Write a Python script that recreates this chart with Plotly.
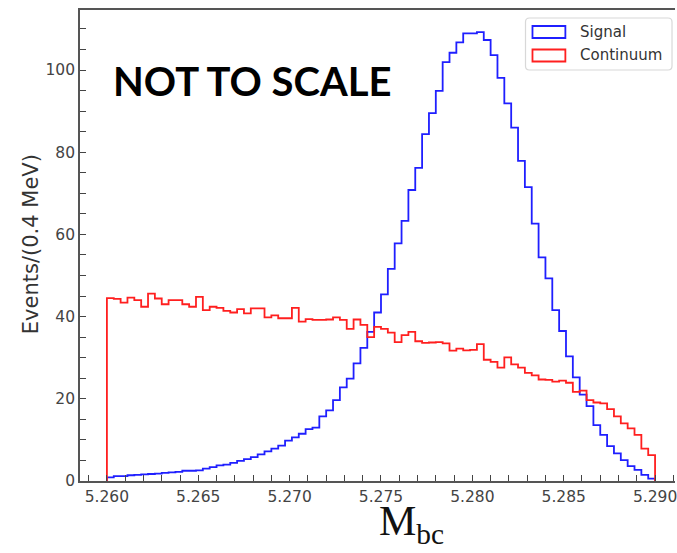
import numpy as np
import plotly.graph_objects as go

# ---- binned M_bc distributions -------------------------------------------
bin_lo, bin_hi, n_bins = 5.260, 5.290, 80

signal_counts = [
    0.9, 1.2, 1.2, 1.4, 1.5, 1.6, 1.7, 1.8, 2.0, 2.1,
    2.2, 2.5, 2.5, 2.6, 3.0, 3.4, 3.8, 4.0, 4.4, 4.9,
    5.3, 5.8, 6.5, 7.2, 7.9, 8.6, 9.8, 10.6, 11.5, 12.6,
    13.0, 15.7, 17.2, 19.7, 22.8, 24.9, 28.6, 32.4, 36.3, 41.0,
    45.4, 51.6, 57.8, 63.3, 70.8, 76.2, 84.4, 89.5, 94.9, 101.9,
    104.2, 106.7, 108.9, 108.9, 109.2, 107.3, 103.6, 98.1, 91.9, 86.0,
    77.9, 71.5, 62.6, 54.4, 49.3, 41.6, 36.5, 30.3, 25.2, 21.0,
    18.2, 13.6, 11.2, 8.5, 6.7, 5.1, 3.6, 2.7, 1.5, 0.6,
]

continuum_counts = [
    44.5, 44.3, 43.4, 44.6, 44.0, 42.4, 45.6, 44.4, 43.0, 44.0,
    44.0, 43.0, 42.4, 44.8, 41.6, 42.4, 42.1, 41.4, 41.0, 41.8,
    40.8, 42.0, 42.0, 39.8, 40.3, 39.6, 39.6, 42.1, 38.8, 39.4,
    39.2, 39.2, 39.3, 39.8, 39.2, 37.0, 39.3, 38.0, 35.0, 37.5,
    37.0, 36.1, 33.8, 35.5, 36.3, 34.0, 33.6, 33.7, 33.8, 33.5,
    31.7, 32.2, 31.8, 31.9, 33.3, 29.5, 29.0, 27.6, 30.1, 28.4,
    27.6, 26.3, 25.7, 24.7, 24.6, 24.2, 24.4, 23.9, 21.7, 22.0,
    19.7, 19.1, 18.9, 17.5, 15.7, 14.0, 12.8, 11.2, 7.9, 6.3,
]

x_tick_vals = [5.260, 5.265, 5.270, 5.275, 5.280, 5.285, 5.290]
x_tick_text = ["5.260", "5.265", "5.270", "5.275", "5.280", "5.285", "5.290"]
y_tick_vals = [0, 20, 40, 60, 80, 100]
series_names = ["Signal", "Continuum"]
series_colors = ["#1f1fff", "#ff1f1f"]

edges = np.linspace(bin_lo, bin_hi, n_bins + 1)


def step_outline(counts):
    """Open step outline of a histogram (like histtype='step')."""
    counts = np.asarray(counts, dtype=float)
    xs = np.concatenate([[edges[0]], edges[:-1], [edges[-1], edges[-1]]])
    ys = np.concatenate([[0.0], counts, [counts[-1], 0.0]])
    return xs, ys


# ---- figure geometry ----------------------------------------------------
W, H = 677, 553
ML, MR, MT, MB = 80, 0, 10, 72
PW, PH = W - ML - MR, H - MT - MB


def px(xp):
    return (xp - ML) / PW


def py(yp):
    return (H - MB - yp) / PH


fig = go.Figure()
for name, counts, color in zip(series_names, [signal_counts, continuum_counts], series_colors):
    xs, ys = step_outline(counts)
    fig.add_trace(go.Scatter(
        x=xs, y=ys, mode="lines", name=name,
        line=dict(color=color, width=1.8, shape="hv"),
        showlegend=False, hoverinfo="skip",
    ))

axis_font = dict(family="DejaVu Sans", size=15.5, color="#444444")

fig.update_xaxes(
    range=[5.258527, 5.291091],
    tickvals=x_tick_vals, ticktext=x_tick_text,
    ticklabeloverflow="allow",
    ticks="inside", ticklen=6, tickwidth=1.2, tickcolor="#444444",
    minor=dict(dtick=0.001, tick0=5.26, ticks="inside", ticklen=6,
               tickwidth=1.2, tickcolor="#444444"),
    showline=True, linecolor="#555555", linewidth=1.8, mirror=True,
    showgrid=False, zeroline=False, tickfont=axis_font,
)
fig.update_yaxes(
    range=[0, 114.6],
    tickvals=y_tick_vals,
    ticks="inside", ticklen=6, tickwidth=1.2, tickcolor="#444444",
    minor=dict(dtick=5, tick0=0, ticks="inside", ticklen=6,
               tickwidth=1.2, tickcolor="#444444"),
    showline=True, linecolor="#555555", linewidth=1.8, mirror=False,
    showgrid=False, zeroline=False, tickfont=axis_font,
)

# ---- legend box with outlined patches -------------------------------------
shapes = []
lx0, lx1, ly0, ly1, r = 527, 674, 18, 70, 4
rx, ry = r / PW, r / PH
X0, X1, Y0, Y1 = px(lx0), px(lx1), py(ly0), py(ly1)
shapes.append(dict(
    type="path", xref="paper", yref="paper",
    path=(f"M{X0+rx},{Y0} L{X1-rx},{Y0} Q{X1},{Y0} {X1},{Y0-ry} "
          f"L{X1},{Y1+ry} Q{X1},{Y1} {X1-rx},{Y1} L{X0+rx},{Y1} "
          f"Q{X0},{Y1} {X0},{Y1+ry} L{X0},{Y0-ry} Q{X0},{Y0} {X0+rx},{Y0} Z"),
    line=dict(color="#d8d8d8", width=1.2), fillcolor="rgba(255,255,255,0.85)",
    layer="above",
))
annotations = []
for i, (name, color) in enumerate(zip(series_names, series_colors)):
    yc = 32 + 23.5 * i
    shapes.append(dict(
        type="rect", xref="paper", yref="paper",
        x0=px(534), x1=px(567), y0=py(yc - 6), y1=py(yc + 6),
        line=dict(color=color, width=1.8), fillcolor="rgba(0,0,0,0)",
        layer="above",
    ))
    annotations.append(dict(
        xref="paper", yref="paper", x=px(580), y=py(yc),
        xanchor="left", yanchor="middle", text=name, showarrow=False,
        font=dict(family="DejaVu Sans", size=15, color="#333333"),
    ))

# axis titles and overlay text
annotations.append(dict(
    xref="paper", yref="paper", x=px(31), y=py(244),
    text="Events/(0.4 MeV)", textangle=-90, showarrow=False,
    xanchor="center", yanchor="middle",
    font=dict(family="DejaVu Sans", size=21, color="#333333"),
))
annotations.append(dict(
    xref="paper", yref="paper", x=px(413), y=py(552),
    text="M<sub>bc</sub>", showarrow=False,
    xanchor="center", yanchor="bottom",
    font=dict(family="Liberation Serif", size=42, color="#111111"),
))
annotations.append(dict(
    xref="paper", yref="paper", x=px(253), y=py(81),
    text="NOT TO SCALE", showarrow=False,
    xanchor="center", yanchor="middle",
    font=dict(family="Lato", size=40, color="#000000", weight="bold"),
))

fig.update_layout(
    width=W, height=H,
    margin=dict(l=ML, r=MR, t=MT, b=MB),
    paper_bgcolor="white", plot_bgcolor="white",
    shapes=shapes, annotations=annotations,
    showlegend=False,
)

fig.write_html("out.html")
